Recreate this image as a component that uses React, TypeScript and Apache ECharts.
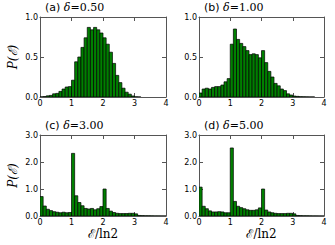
import React, { useEffect, useRef } from "react";
import * as echarts from "echarts";

const BIN_WIDTH = 0.1;

const titlesLetter = ["(a) ", "(b) ", "(c) ", "(d) "];
const titlesDelta = ["0.50", "1.00", "3.00", "5.00"];

const histA = [0.002, 0.006, 0.015, 0.02, 0.04, 0.045, 0.07, 0.1, 0.125, 0.13, 0.21, 0.44, 0.5, 0.62, 0.74, 0.87, 0.84, 0.87, 0.84, 0.8, 0.74, 0.66, 0.56, 0.42, 0.27, 0.18, 0.11, 0.06, 0.035, 0.013, 0.003, 0.001, 0, 0, 0, 0, 0, 0, 0, 0];
const histB = [0.05, 0.1, 0.11, 0.1, 0.12, 0.13, 0.13, 0.15, 0.19, 0.23, 0.66, 0.85, 0.72, 0.67, 0.63, 0.58, 0.53, 0.54, 0.53, 0.49, 0.58, 0.43, 0.32, 0.25, 0.17, 0.14, 0.1, 0.08, 0.04, 0.025, 0.012, 0.008, 0.004, 0.003, 0.002, 0.001, 0.001, 0, 0, 0];
const histC = [0.72, 0.37, 0.25, 0.2, 0.16, 0.14, 0.12, 0.14, 0.12, 0.13, 2.32, 0.75, 0.5, 0.38, 0.28, 0.26, 0.28, 0.23, 0.27, 0.35, 1.0, 0.28, 0.18, 0.13, 0.1, 0.09, 0.09, 0.09, 0.1, 0.1, 0.08, 0.02, 0.015, 0.01, 0.01, 0.008, 0.005, 0.005, 0.003, 0.002];
const histD = [1.07, 0.36, 0.27, 0.19, 0.15, 0.15, 0.16, 0.15, 0.12, 0.12, 2.52, 0.54, 0.36, 0.31, 0.27, 0.23, 0.21, 0.21, 0.23, 0.3, 1.0, 0.22, 0.15, 0.12, 0.1, 0.09, 0.09, 0.09, 0.1, 0.1, 0.08, 0.02, 0.015, 0.01, 0.01, 0.008, 0.005, 0.005, 0.003, 0.002];

const hists = [histA, histB, histC, histD];
const yMax = [1, 1, 3, 3];
const yInterval = [0.5, 0.5, 1, 1];

const grids = [
  { left: 40, top: 17, width: 126, height: 80 },
  { left: 199, top: 17, width: 125, height: 80 },
  { left: 40, top: 135, width: 126, height: 81 },
  { left: 199, top: 135, width: 125, height: 81 },
];

const FRAME = "#555";
const SANS = "DejaVu Sans";
const SERIF = "DejaVu Serif";

export default function App() {
  const ref = useRef<HTMLDivElement>(null);
  useEffect(() => {
    document.body.style.margin = "0";
    const chart = echarts.init(ref.current!, undefined, { renderer: "svg" });
    const xAxis: any[] = [];
    const yAxis: any[] = [];
    const series: any[] = [];
    const graphic: any[] = [];
    grids.forEach((g, i) => {
      const tick = { show: true, inside: true, length: 4, lineStyle: { color: FRAME, width: 1 } };
      const line = { show: true, onZero: false, lineStyle: { color: FRAME, width: 1 } };
      xAxis.push({
        type: "value", gridIndex: i, min: 0, max: 4, interval: 1, position: "bottom",
        axisLine: line, axisTick: tick, splitLine: { show: false },
        axisLabel: { color: "#000", fontFamily: SANS, fontSize: 8, margin: 2 },
      });
      xAxis.push({
        type: "value", gridIndex: i, min: 0, max: 4, interval: 1, position: "top",
        axisLine: line, axisTick: tick, splitLine: { show: false }, axisLabel: { show: false },
      });
      yAxis.push({
        type: "value", gridIndex: i, min: 0, max: yMax[i], interval: yInterval[i], position: "left",
        axisLine: line, axisTick: tick, splitLine: { show: false },
        axisLabel: { color: "#000", fontFamily: SANS, fontSize: 8, margin: 2, formatter: (v: number) => v.toFixed(1) },
      });
      yAxis.push({
        type: "value", gridIndex: i, min: 0, max: yMax[i], interval: yInterval[i], position: "right",
        axisLine: line, axisTick: tick, splitLine: { show: false }, axisLabel: { show: false },
      });
      series.push({
        type: "custom",
        xAxisIndex: i * 2,
        yAxisIndex: i * 2,
        clip: true,
        encode: { x: [0, 1], y: 2 },
        data: hists[i].map((v, k) => [k * BIN_WIDTH, (k + 1) * BIN_WIDTH, v]),
        renderItem: (params: any, api: any) => {
          const x0 = api.value(0);
          const x1 = api.value(1);
          const y = api.value(2);
          if (!(y > 0)) return null;
          const p0 = api.coord([x0, y]);
          const p1 = api.coord([x1, 0]);
          return {
            type: "rect",
            shape: { x: p0[0], y: p0[1], width: p1[0] - p0[0], height: p1[1] - p0[1] },
            style: { fill: "#008000", stroke: "#000", lineWidth: 0.7 },
          };
        },
      });
      graphic.push({
        type: "text",
        left: g.left + 5,
        top: g.top - 15,
        style: {
          text: `{s|${titlesLetter[i]}}{i|δ}{r|=${titlesDelta[i]}}`,
          rich: {
            s: { fontFamily: SANS, fontSize: 11, fill: "#000" },
            i: { fontFamily: SERIF, fontStyle: "italic", fontSize: 11, fill: "#000" },
            r: { fontFamily: SERIF, fontSize: 11, fill: "#000" },
          },
        },
      });
    });
    [0, 2].forEach((i) => {
      const g = grids[i];
      graphic.push({
        type: "text",
        x: 13,
        y: g.top + g.height / 2,
        rotation: Math.PI / 2,
        style: {
          text: "P(ℰ)",
          align: "center",
          verticalAlign: "middle",
          font: `italic 12px '${SERIF}'`,
          fill: "#000",
        },
      });
    });
    [2, 3].forEach((i) => {
      const g = grids[i];
      graphic.push({
        type: "text",
        x: g.left + g.width / 2,
        y: 234,
        style: {
          text: "ℰ/ln2",
          align: "center",
          verticalAlign: "middle",
          font: `12px '${SERIF}'`,
          fill: "#000",
        },
      });
    });
    chart.setOption({
      animation: false,
      backgroundColor: "#fff",
      grid: grids.map((g) => ({ ...g, containLabel: false })),
      xAxis,
      yAxis,
      series,
      graphic,
    });
    return () => chart.dispose();
  }, []);
  return <div ref={ref} style={{ width: 335, height: 245 }} />;
}
